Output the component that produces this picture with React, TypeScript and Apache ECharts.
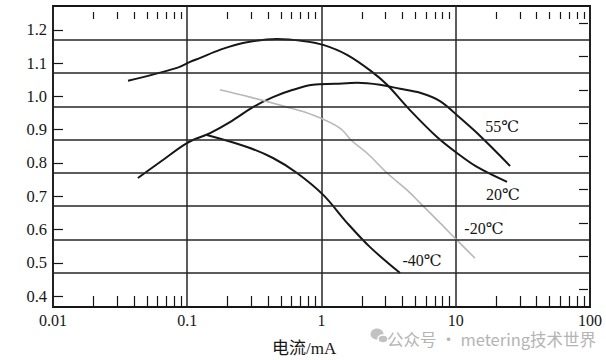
import { useEffect, useRef } from "react";
import * as echarts from "echarts";

// ---- axis values ----
const xMajorTicks = [0.01, 0.1, 1, 10, 100];
const xMinorTicks = [
  0.02, 0.03, 0.04, 0.05, 0.06, 0.07, 0.08, 0.09,
  0.2, 0.3, 0.4, 0.5, 0.6, 0.7, 0.8, 0.9,
  2, 3, 4, 5, 6, 7, 8, 9,
  20, 30, 40, 50, 60, 70, 80, 90,
];
const yTickLabels = [0.4, 0.5, 0.6, 0.7, 0.8, 0.9, 1.0, 1.1, 1.2];
const yRightTicks = [0.42, 0.52, 0.62, 0.72, 0.82, 0.92, 1.02, 1.12, 1.22];
const yGridValues = [0.472, 0.571, 0.671, 0.771, 0.872, 0.971, 1.073, 1.173];
const yMin = 0.367;
const yMax = 1.272;

// ---- curves (current in mA, relative gain) ----
const seriesNames = ["55℃", "20℃", "-20℃", "-40℃"];

const currentA = [0.0429, 0.0659, 0.0995, 0.148, 0.208, 0.309, 0.435, 0.613, 0.864, 1.26, 1.84, 2.73, 3.85, 5.42, 7.63, 10.8, 15.2, 25.4];
const gainA = [0.755, 0.809, 0.86, 0.89, 0.923, 0.968, 0.998, 1.02, 1.035, 1.038, 1.041, 1.035, 1.023, 1.011, 0.986, 0.935, 0.881, 0.791];

const currentB = [0.0362, 0.0839, 0.105, 0.125, 0.175, 0.26, 0.466, 0.728, 1.03, 1.55, 2.38, 3.08, 4.56, 7.25, 10.2, 14.4, 24.1];
const gainB = [1.047, 1.086, 1.104, 1.116, 1.14, 1.161, 1.173, 1.167, 1.155, 1.125, 1.074, 1.035, 0.959, 0.878, 0.83, 0.788, 0.743];

const currentC = [0.175, 0.293, 0.553, 0.864, 1.37, 1.69, 2.18, 3.08, 4.33, 5.42, 7.63, 10.2, 13.9];
const gainC = [1.02, 0.998, 0.968, 0.944, 0.905, 0.866, 0.83, 0.77, 0.719, 0.68, 0.62, 0.568, 0.514];

const currentD = [0.14, 0.279, 0.435, 0.657, 1.03, 1.55, 2.3, 3.85];
const gainD = [0.884, 0.848, 0.815, 0.77, 0.704, 0.62, 0.547, 0.469];

const xAxisTitle = "电流/mA";
const watermark = "公众号 · metering技术世界";

// ---- styling ----
const INK = "#161616";
const SERIF = "'Liberation Serif', 'DejaVu Serif', serif";
const curveStyles = [
  { color: INK, width: 2, labelOffset: [-8, -39] },
  { color: INK, width: 2, labelOffset: [-4, 13] },
  { color: "#b8b8b8", width: 1.6, labelOffset: [9, -30] },
  { color: INK, width: 2, labelOffset: [22, -13] },
];

const zip = (xs: number[], ys: number[]) => xs.map((x, i) => [x, ys[i]]);

export default function App() {
  const ref = useRef<HTMLDivElement>(null);

  useEffect(() => {
    if (!ref.current) return;
    const chart = echarts.init(ref.current, undefined, { renderer: "svg" });

    const curves = [
      zip(currentA, gainA),
      zip(currentB, gainB),
      zip(currentC, gainC),
      zip(currentD, gainD),
    ];

    const series: any[] = curves.map((data, i) => {
      const st = curveStyles[i];
      const last = data[data.length - 1];
      return {
        type: "line",
        name: seriesNames[i],
        data,
        xAxisIndex: 0,
        yAxisIndex: 0,
        showSymbol: false,
        smooth: 0.35,
        silent: true,
        z: 3,
        lineStyle: { color: st.color, width: st.width },
        markPoint: {
          symbol: "circle",
          symbolSize: 1,
          silent: true,
          itemStyle: { color: "rgba(0,0,0,0)" },
          data: [
            {
              coord: last,
              label: {
                show: true,
                position: "inside",
                formatter: seriesNames[i],
                offset: st.labelOffset,
                color: INK,
                fontSize: 16,
                fontFamily: SERIF,
              },
            },
          ],
        },
      };
    });

    // horizontal grid lines
    series.push({
      type: "line",
      name: "grid",
      data: [],
      xAxisIndex: 0,
      yAxisIndex: 0,
      silent: true,
      z: 2,
      markLine: {
        silent: true,
        symbol: ["none", "none"],
        label: { show: false },
        lineStyle: { type: "solid", color: "#262626", width: 1.5 },
        data: yGridValues.map((v) => ({ yAxis: v })),
      },
    });

    const hiddenAxisBits = {
      axisLine: { show: false },
      splitLine: { show: false },
    };

    chart.setOption({
      animation: false,
      backgroundColor: "#ffffff",
      grid: {
        left: 53,
        top: 6,
        right: 16,
        bottom: 53,
        show: true,
        borderColor: INK,
        borderWidth: 2,
        backgroundColor: "transparent",
      },
      xAxis: [
        {
          type: "log",
          logBase: 10,
          min: 0.01,
          max: 100,
          position: "bottom",
          axisLine: { show: false },
          axisTick: { show: false },
          axisLabel: {
            customValues: xMajorTicks,
            formatter: (v: number) => String(v),
            color: INK,
            fontSize: 16,
            fontFamily: SERIF,
            margin: 5,
          },
          splitLine: { show: true, lineStyle: { color: "#262626", width: 1.5 } },
          minorTick: { show: false },
          minorSplitLine: { show: false },
        },
        {
          type: "log",
          logBase: 10,
          min: 0.01,
          max: 100,
          position: "bottom",
          ...hiddenAxisBits,
          axisLabel: { show: false },
          axisTick: {
            show: true,
            inside: true,
            length: 11,
            customValues: xMinorTicks,
            lineStyle: { color: INK, width: 1.2 },
          },
        },
        {
          type: "log",
          logBase: 10,
          min: 0.01,
          max: 100,
          position: "top",
          offset: -6,
          ...hiddenAxisBits,
          axisLabel: { show: false },
          axisTick: {
            show: true,
            inside: true,
            length: 7,
            customValues: xMinorTicks,
            lineStyle: { color: INK, width: 1.2 },
          },
        },
      ],
      yAxis: [
        {
          type: "value",
          min: yMin,
          max: yMax,
          position: "left",
          ...hiddenAxisBits,
          axisTick: {
            show: true,
            inside: true,
            length: 10,
            customValues: yTickLabels,
            lineStyle: { color: INK, width: 1.2 },
          },
          axisLabel: {
            customValues: yTickLabels,
            formatter: (v: number) => v.toFixed(1),
            color: INK,
            fontSize: 16.5,
            fontFamily: SERIF,
            margin: 6,
          },
        },
        {
          type: "value",
          min: yMin,
          max: yMax,
          position: "right",
          offset: -2,
          ...hiddenAxisBits,
          axisLabel: { show: false },
          axisTick: {
            show: true,
            inside: true,
            length: 9,
            customValues: yRightTicks,
            lineStyle: { color: INK, width: 1.2 },
          },
        },
      ],
      graphic: [
        {
          type: "text",
          left: 272,
          top: 340,
          style: {
            text: xAxisTitle,
            fill: INK,
            fontSize: 17,
            fontFamily: "'Liberation Serif', 'Noto Sans CJK SC', serif",
          },
        },
        {
          type: "ellipse",
          shape: { cx: 377, cy: 334, rx: 6.5, ry: 5.5 },
          style: { fill: "#c2c2c2" },
        },
        {
          type: "ellipse",
          shape: { cx: 383, cy: 339, rx: 5, ry: 4 },
          style: { fill: "#c2c2c2", stroke: "#ffffff", lineWidth: 1.5 },
        },
        {
          type: "text",
          left: 387,
          top: 331,
          style: {
            text: watermark,
            fill: "#b4b4b4",
            fontSize: 16.5,
            fontFamily: "'Noto Sans CJK SC', sans-serif",
          },
        },
      ],
      series,
    });

    return () => chart.dispose();
  }, []);

  return (
    <div
      ref={ref}
      style={{
        position: "fixed",
        left: 0,
        top: 0,
        width: 606,
        height: 360,
        background: "#ffffff",
      }}
    />
  );
}
